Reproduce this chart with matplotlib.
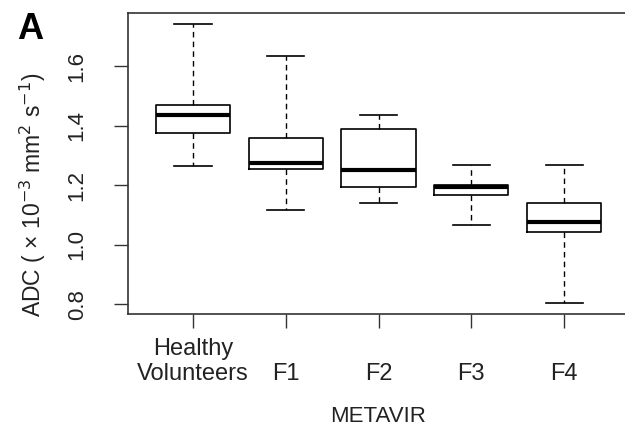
import matplotlib
matplotlib.use("Agg")
import matplotlib.pyplot as plt

plt.rcParams['font.family'] = ['Liberation Sans', 'DejaVu Sans']

# five-number summaries
groups = ["Healthy\nVolunteers", "F1", "F2", "F3", "F4"]
whislo = [1.264, 1.117, 1.139, 1.066, 0.804]
q1 = [1.376, 1.256, 1.195, 1.167, 1.044]
med = [1.438, 1.276, 1.253, 1.195, 1.076]
q3 = [1.471, 1.358, 1.390, 1.200, 1.141]
whishi = [1.743, 1.636, 1.438, 1.270, 1.270]

stats = []
for i in range(len(groups)):
    stats.append({"whislo": whislo[i], "q1": q1[i], "med": med[i],
                  "q3": q3[i], "whishi": whishi[i], "fliers": []})

fig = plt.figure(figsize=(6.25, 4.28), dpi=100)
ax = fig.add_axes([0.2048, 0.2664, 0.8002, 0.7039])

ax.bxp(stats, positions=range(1, 6), widths=0.8, showfliers=False,
       boxprops=dict(color='black', linewidth=1.2),
       medianprops=dict(color='black', linewidth=3.0, solid_capstyle='butt'),
       whiskerprops=dict(color='black', linewidth=1.0, linestyle=(0, (4, 3))),
       capprops=dict(color='black', linewidth=1.2), capwidths=0.4)

ax.set_xlim(0.30, 5.69)
ax.set_ylim(0.767, 1.781)
ax.set_yticks([0.8, 1.0, 1.2, 1.4, 1.6])
ax.set_yticklabels(["0.8", "1.0", "1.2", "1.4", "1.6"], rotation=90, va='center')
ax.set_xticks(range(1, 6))
ax.set_xticklabels(groups, va='bottom', linespacing=1.15)

for s in ax.spines.values():
    s.set_color('#333333')
    s.set_linewidth(1.2)

ax.tick_params(axis='both', length=10, width=1.0, color='#333333', labelsize=16,
               labelcolor='#222222')
ax.tick_params(axis='x', labelsize=17)
ax.tick_params(axis='y', pad=19)
ax.tick_params(axis='x', pad=41)

# y label sits lower than the plot centre in the original
fig.text(33 / 625, 1 - 195 / 428, "ADC ( × 10$^{-3}$ mm$^{2}$ s$^{-1}$)",
         fontsize=16.5, color='#222222', rotation=90, ha='center', va='center')
ax.set_xlabel("METAVIR", fontsize=16, color='#222222', labelpad=15)

fig.text(0.027, 0.91, "A", fontsize=26, fontweight='bold', ha='left', va='baseline')

fig.savefig("out.png", dpi=100)
